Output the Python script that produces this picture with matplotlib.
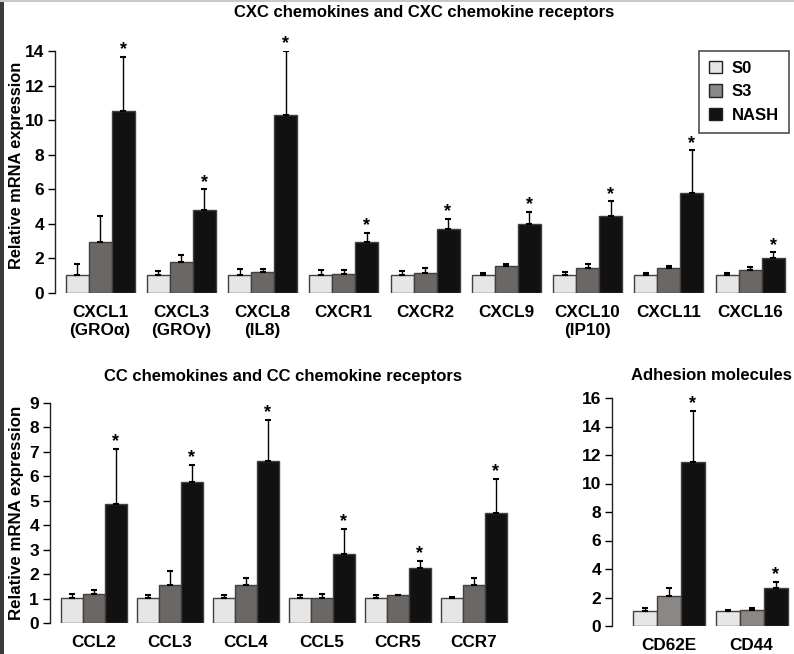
import matplotlib
matplotlib.use("Agg")
import matplotlib.pyplot as plt
from matplotlib.patches import Rectangle
import numpy as np

plt.rcParams['font.family'] = ['Liberation Sans', 'DejaVu Sans']
plt.rcParams['font.weight'] = 'bold'

series = ["S0", "S3", "NASH"]

# Top panel: CXC chemokines
cxc_labels = ["CXCL1\n(GROα)", "CXCL3\n(GROγ)", "CXCL8\n(IL8)", "CXCR1", "CXCR2",
              "CXCL9", "CXCL10\n(IP10)", "CXCL11", "CXCL16"]
cxc_s0 = [1.05, 1.05, 1.05, 1.05, 1.02, 1.02, 1.02, 1.02, 1.02]
cxc_s0_err = [1.65, 1.25, 1.4, 1.35, 1.25, 1.18, 1.22, 1.18, 1.18]
cxc_s3 = [2.95, 1.8, 1.2, 1.1, 1.18, 1.56, 1.43, 1.45, 1.35]
cxc_s3_err = [4.45, 2.2, 1.4, 1.35, 1.45, 1.7, 1.7, 1.56, 1.49]
cxc_nash = [10.55, 4.8, 10.3, 2.95, 3.7, 4.0, 4.46, 5.77, 2.05]
cxc_nash_err = [13.65, 6.0, 14.0, 3.5, 4.3, 4.7, 5.3, 8.26, 2.36]

# Bottom-left: CC chemokines
cc_labels = ["CCL2", "CCL3", "CCL4", "CCL5", "CCR5", "CCR7"]
cc_s0 = [1.02, 1.02, 1.02, 1.02, 1.02, 1.02]
cc_s0_err = [1.19, 1.13, 1.13, 1.13, 1.13, 1.08]
cc_s3 = [1.19, 1.57, 1.57, 1.02, 1.13, 1.57]
cc_s3_err = [1.36, 2.11, 1.84, 1.19, 1.16, 1.84]
cc_nash = [4.88, 5.78, 6.64, 2.82, 2.24, 4.5]
cc_nash_err = [7.13, 6.48, 8.32, 3.85, 2.55, 5.9]

# Bottom-right: adhesion molecules
ad_labels = ["CD62E", "CD44"]
ad_s0 = [1.03, 1.03]
ad_s0_err = [1.27, 1.1]
ad_s3 = [2.09, 1.1]
ad_s3_err = [2.7, 1.27]
ad_nash = [11.5, 2.68]
ad_nash_err = [15.1, 3.1]

W, H = 794, 654
fig = plt.figure(figsize=(W / 100, H / 100), dpi=100)
fig.patch.set_facecolor('white')

C_S0 = '#e6e6e6'
C_NASH = '#111111'
EDGE = '#404040'


def panel(rect, labels, vals, errs, colors, bw, xlim, ylim, yticks, ylabel=None):
    ax = fig.add_axes(rect)
    x = np.arange(len(labels))
    offs = [-bw, 0, bw]
    for k in range(3):
        v = np.array(vals[k])
        e = np.array(errs[k]) - v
        ax.bar(x + offs[k], v, width=bw, color=colors[k], edgecolor=EDGE,
               linewidth=1.0, zorder=2)
        ax.errorbar(x + offs[k], v, yerr=[np.zeros_like(v), e], fmt='none',
                    ecolor='black', elinewidth=1.0, capsize=2.2, capthick=1.5,
                    zorder=3)
    for i, top in enumerate(errs[2]):
        ax.annotate('*', (x[i] + offs[2], top), xytext=(0, -1),
                    textcoords='offset points', ha='center', va='bottom',
                    fontsize=13, fontweight='bold')
    ax.set_xlim(*xlim)
    ax.set_ylim(*ylim)
    ax.set_yticks(yticks)
    ax.set_xticks(x)
    ax.set_xticklabels(labels, fontsize=12.3, fontweight='bold', linespacing=1.25)
    ax.tick_params(axis='x', length=0, pad=8.5)
    ax.tick_params(axis='y', length=5, width=1, direction='out', labelsize=12.5,
                   pad=3)
    for t in ax.get_yticklabels():
        t.set_fontweight('bold')
    for s in ['top', 'right', 'bottom']:
        ax.spines[s].set_visible(False)
    ax.spines['left'].set_linewidth(1.0)
    ax.spines['left'].set_color('#222222')
    ax.patch.set_alpha(0)
    if ylabel:
        ax.set_ylabel('Relative mRNA expression', fontsize=ylabel, fontweight='bold',
                      labelpad=4)
    return ax


def rect_px(left, right, y0, ytop):
    return [left / W, 1 - y0 / H, (right - left) / W, (y0 - ytop) / H]


# Top panel
sp = 81.25
c0 = 100
axt = panel(rect_px(55, 790, 293, 51), cxc_labels,
            [cxc_s0, cxc_s3, cxc_nash], [cxc_s0_err, cxc_s3_err, cxc_nash_err],
            [C_S0, '#6b6765', C_NASH], 23 / sp,
            (-(c0 - 55) / sp, (790 - c0) / sp), (0, 14), range(0, 15, 2),
            ylabel=11.8)
axt.yaxis.set_label_coords(-0.042, 0.527)

# Bottom-left
sp = 76
c0 = 93.5
axl = panel(rect_px(50, 510, 623, 403), cc_labels,
            [cc_s0, cc_s3, cc_nash], [cc_s0_err, cc_s3_err, cc_nash_err],
            [C_S0, '#6b6765', C_NASH], 22 / sp,
            (-(c0 - 50) / sp, (510 - c0) / sp), (0, 9), range(0, 10),
            ylabel=12.2)
axl.yaxis.set_label_coords(-0.056, 0.5)

# Bottom-right
sp = 83
c0 = 668.5
axr = panel(rect_px(612, 794, 626, 398), ad_labels,
            [ad_s0, ad_s3, ad_nash], [ad_s0_err, ad_s3_err, ad_nash_err],
            [C_S0, '#8a8784', C_NASH], 24 / sp,
            (-(c0 - 612) / sp, (794 - c0) / sp), (0, 16), range(0, 17, 2))

# Titles
fig.text(424 / W, 1 - 12 / H, 'CXC chemokines and CXC chemokine receptors',
         ha='center', va='center', fontsize=12, fontweight='bold')
fig.text(283 / W, 1 - 376 / H, 'CC chemokines and CC chemokine receptors',
         ha='center', va='center', fontsize=12, fontweight='bold')
fig.text(711 / W, 1 - 376 / H, 'Adhesion molecules',
         ha='center', va='center', fontsize=12, fontweight='bold')

# Legend
handles = [Rectangle((0, 0), 1, 1, facecolor=c, edgecolor='#222222', linewidth=1)
           for c in [C_S0, '#8a8784', C_NASH]]
leg = fig.legend(handles, series, loc='upper right',
                 bbox_to_anchor=(789 / W, 1 - 51 / H), frameon=True,
                 fancybox=False, edgecolor='#222222', borderaxespad=0,
                 prop={'weight': 'bold', 'size': 12}, handlelength=0.75,
                 handleheight=0.75, handletextpad=0.6, borderpad=0.6,
                 labelspacing=0.5)
leg.get_frame().set_linewidth(1.2)

# Figure border decorations
fig.patches.append(Rectangle((0, 0), 4 / W, 1, transform=fig.transFigure,
                             facecolor='#3a3a3a', edgecolor='none'))
fig.patches.append(Rectangle((0, 1 - 2 / H), 1, 2 / H, transform=fig.transFigure,
                             facecolor='#c8c8c8', edgecolor='none'))

fig.savefig('out.png', dpi=100)
